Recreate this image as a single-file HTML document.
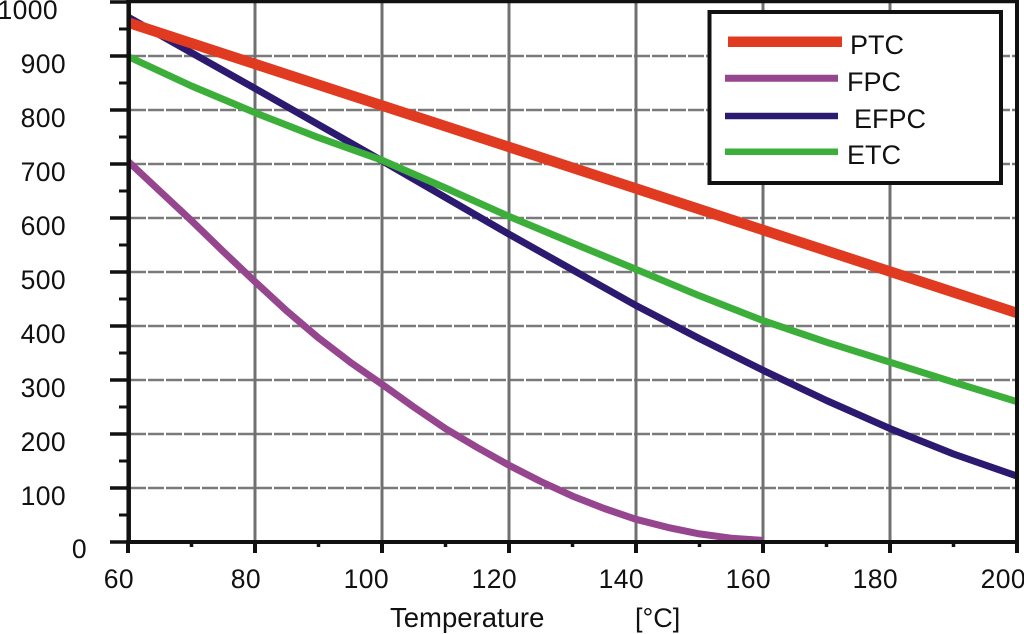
<!DOCTYPE html>
<html>
<head>
<meta charset="utf-8">
<style>
  html, body { margin: 0; padding: 0; background: #ffffff; }
  svg { display: block; }
  text { font-family: "Liberation Sans", Arial, sans-serif; fill: #111; }
</style>
</head>
<body>
<svg width="1024" height="634" viewBox="0 0 1024 634" xmlns="http://www.w3.org/2000/svg">
  <rect x="0" y="0" width="1024" height="634" fill="#ffffff"/>

  <!-- horizontal dashed gridlines -->
  <g stroke="#7a7a7a" stroke-width="2.5" stroke-dasharray="16 2">
    <line x1="130" y1="488" x2="1016" y2="488"/>
    <line x1="130" y1="434" x2="1016" y2="434"/>
    <line x1="130" y1="380" x2="1016" y2="380"/>
    <line x1="130" y1="326" x2="1016" y2="326"/>
    <line x1="130" y1="272" x2="1016" y2="272"/>
    <line x1="130" y1="218" x2="1016" y2="218"/>
    <line x1="130" y1="164" x2="1016" y2="164"/>
    <line x1="130" y1="110" x2="1016" y2="110"/>
    <line x1="130" y1="56" x2="1016" y2="56"/>
  </g>

  <!-- vertical solid gridlines -->
  <g stroke="#707070" stroke-width="3">
    <line x1="255" y1="0" x2="255" y2="542"/>
    <line x1="382" y1="0" x2="382" y2="542"/>
    <line x1="509" y1="0" x2="509" y2="542"/>
    <line x1="636" y1="0" x2="636" y2="542"/>
    <line x1="763" y1="0" x2="763" y2="542"/>
    <line x1="890" y1="0" x2="890" y2="542"/>
  </g>

  <!-- series -->
  <g fill="none" stroke-linejoin="round">
    <!-- FPC -->
    <polyline stroke="#96468f" stroke-width="7"
      points="128,161.3 159.75,191 191.5,220.7 223.25,251.5 255,281.7 286.75,310.9 318.5,337.9 350.25,362.2 382,384.3 413.75,407 445.5,428.6 477.25,447.5 509,465.3 540.75,481.5 572.5,496.1 604.25,508.5 636,519.3 667.75,527.4 699.5,533.9 731.25,538.2 763,540.4"/>
    <!-- EFPC -->
    <polyline stroke="#2c1a70" stroke-width="7"
      points="128,17.1 255,88.4 382,160.8 509,234.2 636,305.5 699.5,338.6 763,370.3 826.5,400.5 890,428.6 953.5,454 1017,476.1"/>
    <!-- ETC -->
    <polyline stroke="#3cae3a" stroke-width="7"
      points="128,56.5 191.5,86 255,112.7 318.5,137.6 382,160.2 445.5,188 509,216.4 572.5,243 636,269.3 699.5,295.8 763,320.6 826.5,342.2 890,362.2 953.5,382.2 1017,401.6"/>
    <!-- PTC -->
    <line x1="128" y1="22.5" x2="1017" y2="313" stroke="#e03a20" stroke-width="10.5"/>
  </g>

  <!-- axes -->
  <g stroke="#111" fill="none">
    <line x1="128.7" y1="0" x2="128.7" y2="544" stroke-width="4.5"/>
    <line x1="126" y1="542" x2="1019" y2="542" stroke-width="4"/>
    <line x1="1017" y1="0" x2="1017" y2="544" stroke-width="4"/>
    <line x1="126" y1="1.5" x2="1019" y2="1.5" stroke-width="3.5"/>
  </g>

  <!-- y ticks -->
  <g stroke="#111" stroke-width="3.5">
    <line x1="110" y1="542" x2="128" y2="542"/>
    <line x1="110" y1="488" x2="128" y2="488"/>
    <line x1="110" y1="434" x2="128" y2="434"/>
    <line x1="110" y1="380" x2="128" y2="380"/>
    <line x1="110" y1="326" x2="128" y2="326"/>
    <line x1="110" y1="272" x2="128" y2="272"/>
    <line x1="110" y1="218" x2="128" y2="218"/>
    <line x1="110" y1="164" x2="128" y2="164"/>
    <line x1="110" y1="110" x2="128" y2="110"/>
    <line x1="110" y1="56" x2="128" y2="56"/>
    <line x1="110" y1="2" x2="128" y2="2"/>
  </g>
  <g stroke="#111" stroke-width="3">
    <line x1="119" y1="515" x2="128" y2="515"/>
    <line x1="119" y1="461" x2="128" y2="461"/>
    <line x1="119" y1="407" x2="128" y2="407"/>
    <line x1="119" y1="353" x2="128" y2="353"/>
    <line x1="119" y1="299" x2="128" y2="299"/>
    <line x1="119" y1="245" x2="128" y2="245"/>
    <line x1="119" y1="191" x2="128" y2="191"/>
    <line x1="119" y1="137" x2="128" y2="137"/>
    <line x1="119" y1="83" x2="128" y2="83"/>
    <line x1="119" y1="29" x2="128" y2="29"/>
  </g>

  <!-- x ticks -->
  <g stroke="#111" stroke-width="4">
    <line x1="128" y1="542" x2="128" y2="553"/>
    <line x1="255" y1="542" x2="255" y2="553"/>
    <line x1="382" y1="542" x2="382" y2="553"/>
    <line x1="509" y1="542" x2="509" y2="553"/>
    <line x1="636" y1="542" x2="636" y2="553"/>
    <line x1="763" y1="542" x2="763" y2="553"/>
    <line x1="890" y1="542" x2="890" y2="553"/>
    <line x1="1017" y1="542" x2="1017" y2="553"/>
  </g>
  <g stroke="#111" stroke-width="3.5">
    <line x1="191.5" y1="542" x2="191.5" y2="547"/>
    <line x1="318.5" y1="542" x2="318.5" y2="547"/>
    <line x1="445.5" y1="542" x2="445.5" y2="547"/>
    <line x1="572.5" y1="542" x2="572.5" y2="547"/>
    <line x1="699.5" y1="542" x2="699.5" y2="547"/>
    <line x1="826.5" y1="542" x2="826.5" y2="547"/>
    <line x1="953.5" y1="542" x2="953.5" y2="547"/>
  </g>

  <!-- y labels -->
  <g font-size="26.5" text-anchor="end" letter-spacing="0.4">
    <text x="58" y="19">1000</text>
    <text x="66" y="73">900</text>
    <text x="66" y="127">800</text>
    <text x="66" y="181">700</text>
    <text x="66" y="235">600</text>
    <text x="66" y="289">500</text>
    <text x="66" y="343">400</text>
    <text x="66" y="397">300</text>
    <text x="66" y="451">200</text>
    <text x="66" y="505">100</text>
    <text x="87" y="558">0</text>
  </g>

  <!-- x labels -->
  <g font-size="26.5" text-anchor="end" letter-spacing="0.4">
    <text x="134" y="588">60</text>
    <text x="261" y="588">80</text>
    <text x="389" y="588">100</text>
    <text x="517" y="588">120</text>
    <text x="644" y="588">140</text>
    <text x="771" y="588">160</text>
    <text x="898" y="588">180</text>
    <text x="1026" y="588">200</text>
  </g>

  <!-- axis title -->
  <text x="390" y="627" font-size="27.5">Temperature</text>
  <text x="635" y="627" font-size="27">[°C]</text>

  <!-- legend -->
  <rect x="709.5" y="12" width="291.5" height="171" fill="#ffffff" stroke="#111" stroke-width="4"/>
  <line x1="728" y1="41.7" x2="842" y2="41.7" stroke="#e03a20" stroke-width="10.5"/>
  <line x1="725" y1="78.3" x2="838" y2="78.3" stroke="#96468f" stroke-width="7"/>
  <line x1="725" y1="116" x2="838" y2="116" stroke="#2c1a70" stroke-width="6.5"/>
  <line x1="725" y1="151.7" x2="838" y2="151.7" stroke="#3cae3a" stroke-width="6.5"/>
  <g font-size="27">
    <text x="850" y="54">PTC</text>
    <text x="847" y="91">FPC</text>
    <text x="854" y="128">EFPC</text>
    <text x="847" y="164">ETC</text>
  </g>
</svg>
</body>
</html>
